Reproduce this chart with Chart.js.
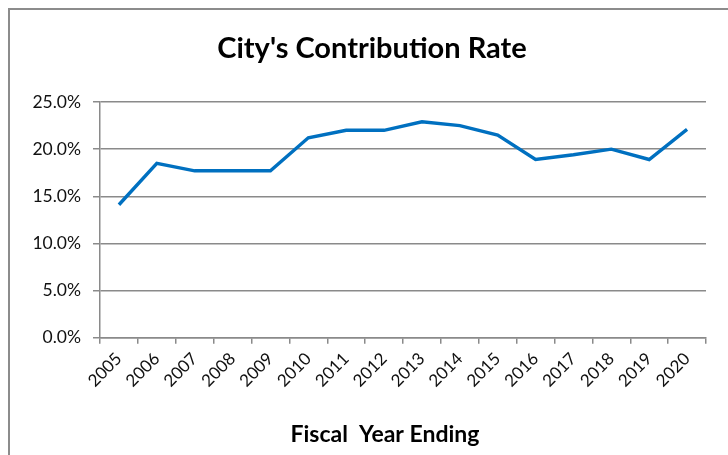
<!DOCTYPE html>
<html>
<head>
<meta charset="utf-8">
<script src="https://cdn.jsdelivr.net/npm/chart.js@4/dist/chart.umd.min.js"></script>
<style>
  html, body { margin: 0; padding: 0; background: #fff; overflow: hidden; width: 728px; height: 455px; }
  #frame { position: absolute; left: 8px; top: 8px; border: 2px solid #8c8c8c; width: 724px; height: 460px; }
  canvas { display: block; }
</style>
</head>
<body>
<div id="frame"><canvas id="chart" width="724" height="450"></canvas></div>
<script>
// Fiscal years and the City's contribution rate (% of payroll)
const years = ['2005','2006','2007','2008','2009','2010','2011','2012','2013','2014','2015','2016','2017','2018','2019','2020'];
const contributionRate = [14.1, 18.5, 17.7, 17.7, 17.7, 21.2, 22.0, 22.0, 22.9, 22.5, 21.5, 18.9, 19.4, 20.0, 18.9, 22.1];
const yTicks = [0, 5, 10, 15, 20, 25];
const chartTitle = "City's Contribution Rate";
const xAxisTitle = 'Fiscal  Year Ending';

const FONT = 'Lato, "Open Sans", sans-serif';
const GRID = '#8a8a8a';

// Chart heading (centred on the whole frame) and the category-axis caption
const captions = {
  id: 'captions',
  afterDraw(chart) {
    const ctx = chart.ctx;
    ctx.save();
    ctx.fillStyle = '#000';
    ctx.textAlign = 'center';
    ctx.textBaseline = 'middle';
    ctx.font = 'bold 29px ' + FONT;
    ctx.fillText(chartTitle, chart.width / 2, 39);
    ctx.font = 'bold 23px ' + FONT;
    ctx.fillText(xAxisTitle, 375, 425);
    ctx.restore();
  }
};

new Chart(document.getElementById('chart'), {
  type: 'line',
  data: {
    labels: years,
    datasets: [{
      data: contributionRate,
      borderColor: '#0070C0',
      borderWidth: 3.4,
      pointRadius: 0,
      tension: 0,
      fill: false
    }]
  },
  options: {
    responsive: false,
    animation: false,
    events: [],
    layout: { padding: { left: 0, right: 28, top: 92, bottom: 0 } },
    plugins: {
      legend: { display: false },
      tooltip: { enabled: false },
      title: { display: false }
    },
    scales: {
      x: {
        type: 'category',
        offset: true,
        grid: {
          offset: true,
          drawOnChartArea: false,
          drawTicks: true,
          tickLength: 6,
          color: GRID,
          lineWidth: 1.5
        },
        border: { color: GRID, width: 1.5 },
        ticks: {
          minRotation: 45,
          maxRotation: 45,
          autoSkip: false,
          padding: 5,
          color: '#111',
          font: { family: FONT, size: 17 }
        },
        afterFit(scale) { scale.height = 122.3; }
      },
      y: {
        min: 0,
        max: 25,
        afterBuildTicks(scale) { scale.ticks = yTicks.map(v => ({ value: v })); },
        grid: {
          color: GRID,
          lineWidth: 1.5,
          drawTicks: true,
          tickLength: 7
        },
        border: { color: GRID, width: 1.5 },
        ticks: {
          padding: 12,
          color: '#111',
          font: { family: FONT, size: 17.5 },
          callback: v => v.toFixed(1) + '%'
        },
        afterFit(scale) { scale.width = 90; }
      }
    }
  },
  plugins: [captions]
});
</script>
</body>
</html>
